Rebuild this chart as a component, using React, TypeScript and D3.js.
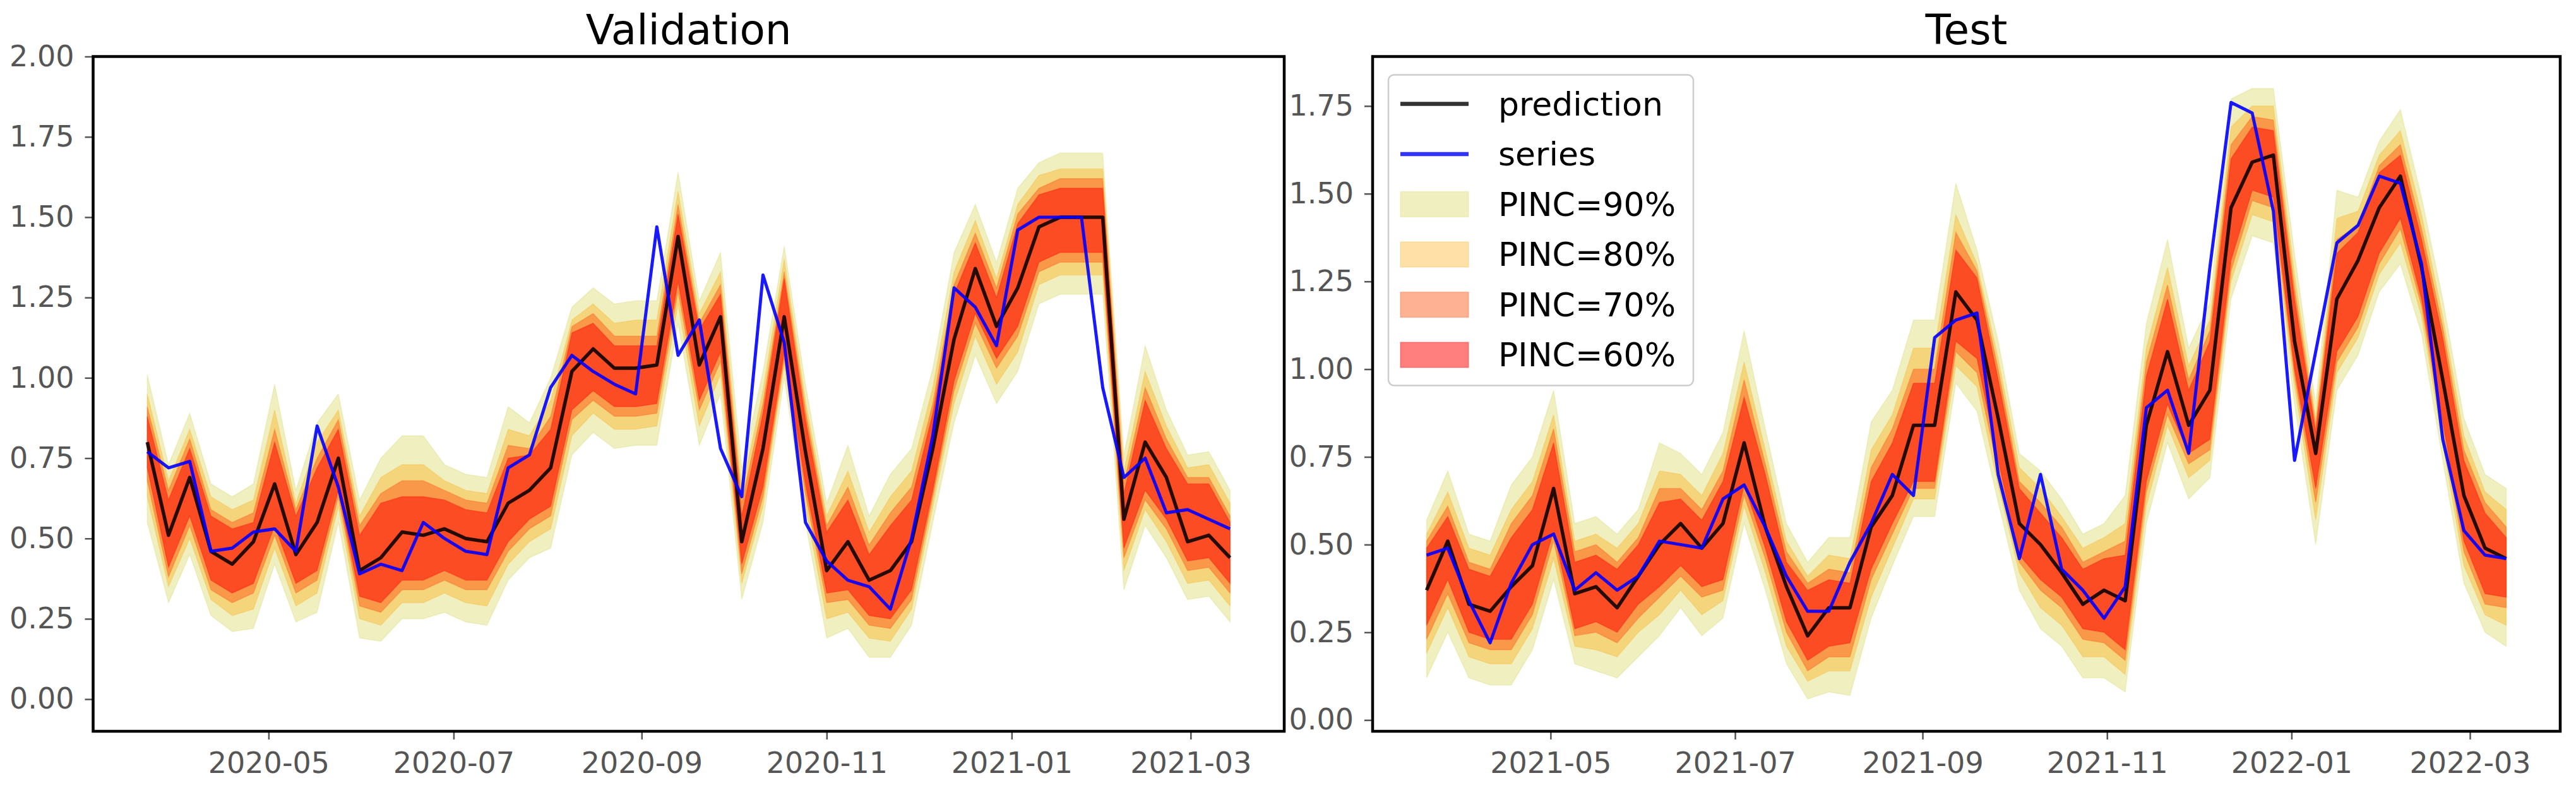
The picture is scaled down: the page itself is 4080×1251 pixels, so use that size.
import { useEffect, useRef } from 'react'
import * as d3 from 'd3'

// ── Data: weekly points ─────────────────────────────────────────────
const valStart = '2020-03-22'
const testStart = '2021-03-21'

const valPrediction = [
  0.80, 0.51, 0.69, 0.46, 0.42, 0.49, 0.67, 0.45, 0.55, 0.75, 0.40, 0.44, 0.52, 0.51,
  0.53, 0.50, 0.49, 0.61, 0.65, 0.72, 1.02, 1.09, 1.03, 1.03, 1.04, 1.44, 1.04, 1.19,
  0.49, 0.78, 1.19, 0.77, 0.40, 0.49, 0.37, 0.40, 0.49, 0.78, 1.12, 1.34, 1.16, 1.28,
  1.47, 1.50, 1.50, 1.50, 0.56, 0.80, 0.69, 0.49, 0.51, 0.44,
]
const valSeries = [
  0.77, 0.72, 0.74, 0.46, 0.47, 0.52, 0.53, 0.46, 0.85, 0.66, 0.39, 0.42, 0.40, 0.55,
  0.50, 0.46, 0.45, 0.72, 0.76, 0.97, 1.07, 1.02, 0.98, 0.95, 1.47, 1.07, 1.18, 0.78,
  0.63, 1.32, 1.11, 0.55, 0.43, 0.37, 0.35, 0.28, 0.50, 0.82, 1.28, 1.22, 1.10, 1.46,
  1.50, 1.50, 1.50, 0.97, 0.69, 0.75, 0.58, 0.59, 0.56, 0.53,
]
const valHi90 = [
  1.01, 0.73, 0.89, 0.67, 0.63, 0.67, 0.98, 0.65, 0.86, 0.95, 0.62, 0.75, 0.82, 0.82,
  0.73, 0.70, 0.69, 0.91, 0.86, 1.00, 1.22, 1.28, 1.23, 1.24, 1.24, 1.64, 1.24, 1.39,
  0.72, 1.02, 1.41, 0.98, 0.61, 0.79, 0.57, 0.70, 0.78, 1.03, 1.39, 1.54, 1.36, 1.59,
  1.67, 1.70, 1.70, 1.70, 0.76, 1.10, 0.90, 0.76, 0.77, 0.65,
]
const valHi80 = [
  0.95, 0.68, 0.84, 0.63, 0.59, 0.62, 0.90, 0.61, 0.80, 0.90, 0.57, 0.69, 0.73, 0.73,
  0.68, 0.65, 0.64, 0.84, 0.82, 0.93, 1.18, 1.23, 1.17, 1.18, 1.18, 1.58, 1.20, 1.33,
  0.65, 0.96, 1.37, 0.93, 0.57, 0.71, 0.52, 0.63, 0.71, 0.97, 1.33, 1.49, 1.31, 1.54,
  1.63, 1.65, 1.65, 1.65, 0.71, 1.02, 0.85, 0.72, 0.73, 0.61,
]
const valHi70 = [
  0.91, 0.65, 0.81, 0.59, 0.55, 0.58, 0.84, 0.59, 0.75, 0.87, 0.54, 0.64, 0.68, 0.68,
  0.65, 0.62, 0.61, 0.79, 0.78, 0.88, 1.16, 1.20, 1.13, 1.13, 1.13, 1.54, 1.17, 1.29,
  0.61, 0.92, 1.33, 0.90, 0.54, 0.66, 0.48, 0.58, 0.66, 0.92, 1.29, 1.45, 1.28, 1.51,
  1.59, 1.62, 1.62, 1.62, 0.67, 0.97, 0.81, 0.69, 0.69, 0.57,
]
const valHi60 = [
  0.88, 0.62, 0.78, 0.57, 0.53, 0.55, 0.80, 0.57, 0.72, 0.84, 0.51, 0.61, 0.63, 0.63,
  0.62, 0.59, 0.58, 0.75, 0.76, 0.84, 1.14, 1.17, 1.10, 1.10, 1.10, 1.51, 1.15, 1.26,
  0.57, 0.89, 1.31, 0.87, 0.52, 0.62, 0.45, 0.54, 0.62, 0.89, 1.26, 1.42, 1.25, 1.48,
  1.57, 1.59, 1.59, 1.59, 0.64, 0.93, 0.78, 0.67, 0.67, 0.55,
]
const valLo60 = [
  0.72, 0.41, 0.57, 0.37, 0.33, 0.36, 0.54, 0.36, 0.40, 0.65, 0.32, 0.30, 0.37, 0.37,
  0.40, 0.37, 0.37, 0.49, 0.56, 0.60, 0.90, 0.96, 0.91, 0.91, 0.92, 1.30, 0.93, 1.08,
  0.42, 0.66, 1.08, 0.67, 0.33, 0.34, 0.26, 0.25, 0.34, 0.65, 0.99, 1.20, 1.06, 1.16,
  1.36, 1.39, 1.39, 1.39, 0.47, 0.65, 0.56, 0.43, 0.44, 0.36,
]
const valLo70 = [
  0.68, 0.38, 0.54, 0.34, 0.30, 0.33, 0.51, 0.33, 0.37, 0.63, 0.29, 0.27, 0.34, 0.34,
  0.37, 0.34, 0.34, 0.46, 0.53, 0.57, 0.87, 0.93, 0.88, 0.88, 0.89, 1.27, 0.90, 1.05,
  0.39, 0.63, 1.06, 0.64, 0.30, 0.31, 0.23, 0.22, 0.31, 0.63, 0.96, 1.17, 1.03, 1.13,
  1.33, 1.36, 1.36, 1.36, 0.44, 0.62, 0.53, 0.40, 0.41, 0.33,
]
const valLo80 = [
  0.63, 0.35, 0.50, 0.31, 0.26, 0.28, 0.47, 0.29, 0.33, 0.60, 0.25, 0.23, 0.30, 0.30,
  0.33, 0.30, 0.29, 0.42, 0.49, 0.53, 0.82, 0.89, 0.84, 0.84, 0.85, 1.23, 0.85, 1.01,
  0.36, 0.60, 1.04, 0.60, 0.25, 0.27, 0.19, 0.18, 0.28, 0.60, 0.92, 1.13, 0.98, 1.08,
  1.29, 1.32, 1.32, 1.32, 0.40, 0.59, 0.49, 0.36, 0.37, 0.29,
]
const valLo90 = [
  0.55, 0.30, 0.45, 0.26, 0.21, 0.22, 0.42, 0.24, 0.27, 0.55, 0.19, 0.18, 0.25, 0.25,
  0.27, 0.24, 0.23, 0.37, 0.44, 0.47, 0.76, 0.83, 0.78, 0.79, 0.79, 1.17, 0.79, 0.95,
  0.31, 0.55, 1.00, 0.55, 0.19, 0.22, 0.13, 0.13, 0.23, 0.55, 0.86, 1.07, 0.92, 1.02,
  1.23, 1.26, 1.26, 1.26, 0.34, 0.54, 0.44, 0.31, 0.32, 0.24,
]

const testPrediction = [
  0.37, 0.51, 0.33, 0.31, 0.38, 0.44, 0.66, 0.36, 0.38, 0.32, 0.41, 0.50, 0.56, 0.49,
  0.56, 0.79, 0.55, 0.38, 0.24, 0.32, 0.32, 0.55, 0.64, 0.84, 0.84, 1.22, 1.14, 0.86,
  0.56, 0.50, 0.42, 0.33, 0.37, 0.34, 0.84, 1.05, 0.84, 0.94, 1.46, 1.59, 1.61, 1.08,
  0.76, 1.20, 1.31, 1.46, 1.55, 1.29, 0.97, 0.64, 0.49, 0.46,
]
const testSeries = [
  0.47, 0.49, 0.34, 0.22, 0.39, 0.50, 0.53, 0.37, 0.42, 0.37, 0.41, 0.51, 0.50, 0.49,
  0.63, 0.67, 0.55, 0.41, 0.31, 0.31, 0.45, 0.56, 0.70, 0.64, 1.09, 1.14, 1.16, 0.70,
  0.46, 0.70, 0.43, 0.37, 0.29, 0.38, 0.89, 0.94, 0.76, 1.29, 1.76, 1.73, 1.45, 0.74,
  1.05, 1.36, 1.41, 1.55, 1.53, 1.30, 0.80, 0.54, 0.47, 0.46,
]
const testHi90 = [
  0.57, 0.71, 0.53, 0.51, 0.67, 0.75, 0.94, 0.56, 0.58, 0.53, 0.60, 0.79, 0.76, 0.70,
  0.82, 1.11, 0.83, 0.56, 0.45, 0.52, 0.52, 0.85, 0.94, 1.14, 1.14, 1.53, 1.34, 1.08,
  0.76, 0.71, 0.63, 0.53, 0.56, 0.64, 1.13, 1.37, 1.06, 1.19, 1.77, 1.80, 1.80, 1.33,
  0.90, 1.51, 1.49, 1.65, 1.74, 1.49, 1.20, 0.86, 0.70, 0.66,
]
const testHi80 = [
  0.53, 0.65, 0.49, 0.47, 0.60, 0.68, 0.87, 0.51, 0.53, 0.49, 0.56, 0.71, 0.70, 0.64,
  0.76, 1.02, 0.77, 0.51, 0.41, 0.47, 0.46, 0.77, 0.87, 1.06, 1.06, 1.44, 1.30, 1.03,
  0.72, 0.66, 0.58, 0.49, 0.52, 0.56, 1.06, 1.29, 1.01, 1.14, 1.69, 1.75, 1.75, 1.27,
  0.86, 1.43, 1.45, 1.61, 1.68, 1.44, 1.15, 0.81, 0.65, 0.60,
]
const testHi70 = [
  0.51, 0.61, 0.45, 0.43, 0.56, 0.64, 0.83, 0.48, 0.50, 0.45, 0.52, 0.66, 0.66, 0.60,
  0.71, 0.97, 0.73, 0.48, 0.39, 0.43, 0.42, 0.72, 0.83, 1.00, 1.00, 1.39, 1.28, 1.00,
  0.68, 0.62, 0.55, 0.45, 0.48, 0.51, 1.02, 1.24, 0.97, 1.11, 1.64, 1.72, 1.71, 1.23,
  0.84, 1.37, 1.41, 1.58, 1.64, 1.40, 1.12, 0.77, 0.62, 0.55,
]
const testHi60 = [
  0.49, 0.58, 0.43, 0.41, 0.52, 0.60, 0.79, 0.45, 0.47, 0.43, 0.50, 0.62, 0.63, 0.57,
  0.68, 0.92, 0.70, 0.45, 0.37, 0.40, 0.39, 0.68, 0.79, 0.96, 0.96, 1.34, 1.26, 0.97,
  0.66, 0.59, 0.52, 0.43, 0.46, 0.47, 0.98, 1.20, 0.94, 1.08, 1.60, 1.69, 1.68, 1.20,
  0.82, 1.33, 1.39, 1.56, 1.61, 1.37, 1.09, 0.74, 0.59, 0.52,
]
const testLo60 = [
  0.27, 0.40, 0.25, 0.23, 0.23, 0.33, 0.54, 0.26, 0.28, 0.25, 0.33, 0.38, 0.44, 0.38,
  0.40, 0.67, 0.49, 0.28, 0.17, 0.21, 0.22, 0.43, 0.56, 0.68, 0.68, 1.08, 1.03, 0.74,
  0.47, 0.40, 0.35, 0.26, 0.25, 0.20, 0.68, 0.90, 0.76, 0.80, 1.31, 1.51, 1.49, 1.00,
  0.66, 1.05, 1.15, 1.33, 1.43, 1.20, 0.85, 0.51, 0.36, 0.35,
]
const testLo70 = [
  0.23, 0.36, 0.22, 0.20, 0.20, 0.30, 0.51, 0.24, 0.25, 0.22, 0.29, 0.35, 0.41, 0.35,
  0.37, 0.64, 0.46, 0.25, 0.14, 0.18, 0.18, 0.40, 0.53, 0.66, 0.66, 1.05, 0.99, 0.71,
  0.45, 0.37, 0.32, 0.23, 0.22, 0.17, 0.65, 0.87, 0.73, 0.77, 1.28, 1.48, 1.46, 0.98,
  0.62, 1.02, 1.12, 1.30, 1.40, 1.18, 0.82, 0.48, 0.33, 0.32,
]
const testLo80 = [
  0.19, 0.32, 0.18, 0.16, 0.16, 0.26, 0.46, 0.21, 0.20, 0.18, 0.25, 0.30, 0.37, 0.30,
  0.34, 0.61, 0.42, 0.21, 0.11, 0.14, 0.14, 0.35, 0.49, 0.63, 0.63, 1.01, 0.95, 0.67,
  0.42, 0.32, 0.27, 0.18, 0.18, 0.13, 0.61, 0.84, 0.69, 0.74, 1.25, 1.44, 1.42, 0.95,
  0.57, 0.99, 1.09, 1.27, 1.36, 1.15, 0.79, 0.44, 0.30, 0.27,
]
const testLo90 = [
  0.12, 0.25, 0.12, 0.10, 0.10, 0.20, 0.40, 0.16, 0.14, 0.12, 0.18, 0.24, 0.32, 0.24,
  0.29, 0.56, 0.37, 0.16, 0.06, 0.08, 0.07, 0.29, 0.44, 0.58, 0.58, 0.96, 0.88, 0.62,
  0.37, 0.26, 0.21, 0.12, 0.12, 0.08, 0.56, 0.79, 0.63, 0.69, 1.20, 1.38, 1.36, 0.90,
  0.50, 0.94, 1.04, 1.22, 1.30, 1.10, 0.74, 0.39, 0.25, 0.21,
]

const valYTicks = [0, 0.25, 0.5, 0.75, 1, 1.25, 1.5, 1.75, 2]
const testYTicks = [0, 0.25, 0.5, 0.75, 1, 1.25, 1.5, 1.75]
const valYDomain: [number, number] = [-0.1, 2.0]
const testYDomain: [number, number] = [-0.032, 1.891]

const pincLabels = ['PINC=90%', 'PINC=80%', 'PINC=70%', 'PINC=60%']

// ── Styles ──────────────────────────────────────────────────────────
const W = 4080
const H = 1251
const FONT = 'DejaVu Sans, sans-serif'
const bandStyles = [
  { color: '#bfbf00', alpha: 0.25 },
  { color: '#ffa500', alpha: 0.35 },
  { color: '#ff4500', alpha: 0.42 },
  { color: '#ff0000', alpha: 0.5 },
]
const predColor = '#000000'
const seriesColor = '#0000ff'
const tickColor = '#555555'

interface Frame {
  left: number
  right: number
  top: number
  bottom: number
}

interface Panel {
  title: string
  start: string
  pred: number[]
  series: number[]
  bands: [number[], number[]][]
  yDomain: [number, number]
  yTicks: number[]
  frame: Frame
  legend: boolean
}

const panels: Panel[] = [
  {
    title: 'Validation',
    start: valStart,
    pred: valPrediction,
    series: valSeries,
    bands: [
      [valLo90, valHi90],
      [valLo80, valHi80],
      [valLo70, valHi70],
      [valLo60, valHi60],
    ],
    yDomain: valYDomain,
    yTicks: valYTicks,
    frame: { left: 147.5, right: 2034, top: 89.5, bottom: 1158 },
    legend: false,
  },
  {
    title: 'Test',
    start: testStart,
    pred: testPrediction,
    series: testSeries,
    bands: [
      [testLo90, testHi90],
      [testLo80, testHi80],
      [testLo70, testHi70],
      [testLo60, testHi60],
    ],
    yDomain: testYDomain,
    yTicks: testYTicks,
    frame: { left: 2174, right: 4055, top: 89.5, bottom: 1158 },
    legend: true,
  },
]

function styleAxis(g: d3.Selection<SVGGElement, unknown, null, undefined>) {
  g.select('.domain').remove()
  g.attr('font-family', FONT).attr('font-size', 46)
  g.selectAll('line').attr('stroke', tickColor).attr('stroke-width', 2.5)
  g.selectAll('text').attr('fill', tickColor)
}

function drawPanel(svg: d3.Selection<SVGSVGElement, unknown, null, undefined>, p: Panel) {
  const { left, right, top, bottom } = p.frame
  const t0 = new Date(p.start)
  const dates = p.pred.map((_, i) => d3.utcDay.offset(t0, i * 7))
  const first = +dates[0]!
  const last = +dates[dates.length - 1]!
  const pad = (last - first) * 0.05

  const x = d3
    .scaleUtc()
    .domain([new Date(first - pad), new Date(last + pad)])
    .range([left, right])
  const y = d3.scaleLinear().domain(p.yDomain).range([bottom, top])

  const root = svg.append('g')

  // ── Prediction intervals ────────────────────────────────────────
  p.bands.forEach(([lo, hi], b) => {
    const area = d3
      .area<number>()
      .x((_, i) => x(dates[i]!))
      .y0((_, i) => y(lo[i]!))
      .y1((_, i) => y(hi[i]!))
    root
      .append('path')
      .datum(hi)
      .attr('d', area)
      .attr('fill', bandStyles[b]!.color)
      .attr('fill-opacity', bandStyles[b]!.alpha)
      .attr('stroke', bandStyles[b]!.color)
      .attr('stroke-opacity', bandStyles[b]!.alpha * 0.6)
      .attr('stroke-width', 1.5)
  })

  // ── Lines ───────────────────────────────────────────────────────
  const line = d3
    .line<number>()
    .x((_, i) => x(dates[i]!))
    .y((v) => y(v))

  root
    .append('path')
    .datum(p.pred)
    .attr('d', line)
    .attr('fill', 'none')
    .attr('stroke', predColor)
    .attr('stroke-opacity', 0.85)
    .attr('stroke-width', 5.5)
    .attr('stroke-linejoin', 'round')

  root
    .append('path')
    .datum(p.series)
    .attr('d', line)
    .attr('fill', 'none')
    .attr('stroke', seriesColor)
    .attr('stroke-opacity', 0.9)
    .attr('stroke-width', 5)
    .attr('stroke-linejoin', 'round')

  // ── Axes ────────────────────────────────────────────────────────
  const xAxis = d3
    .axisBottom(x)
    .ticks(d3.utcMonth.every(2)!)
    .tickFormat((d) => d3.utcFormat('%Y-%m')(d as Date))
    .tickSize(13)
    .tickPadding(20)
  root.append('g').attr('transform', `translate(0,${bottom})`).call(xAxis).call(styleAxis)

  const yAxis = d3
    .axisLeft(y)
    .tickValues(p.yTicks)
    .tickFormat((d) => d3.format('.2f')(Number(d)))
    .tickSize(13)
    .tickPadding(17)
  root.append('g').attr('transform', `translate(${left},0)`).call(yAxis).call(styleAxis)

  // frame
  root
    .append('rect')
    .attr('x', left)
    .attr('y', top)
    .attr('width', right - left)
    .attr('height', bottom - top)
    .attr('fill', 'none')
    .attr('stroke', '#000')
    .attr('stroke-width', 4.5)

  // title
  root
    .append('text')
    .attr('x', (left + right) / 2)
    .attr('y', 70)
    .attr('text-anchor', 'middle')
    .attr('font-family', FONT)
    .attr('font-size', 66)
    .attr('fill', '#000')
    .text(p.title)

  // ── Legend ──────────────────────────────────────────────────────
  if (p.legend) {
    const lx = left + 25
    const ly = top + 29
    const lg = root.append('g').attr('transform', `translate(${lx},${ly})`)
    lg.append('rect')
      .attr('width', 483)
      .attr('height', 492)
      .attr('rx', 9)
      .attr('fill', '#fff')
      .attr('fill-opacity', 0.8)
      .attr('stroke', '#cccccc')
      .attr('stroke-width', 2.5)

    const rowY = (i: number) => 46 + i * 79.5
    const entries = [
      { label: 'prediction', kind: 'line', color: predColor, alpha: 0.8 },
      { label: 'series', kind: 'line', color: seriesColor, alpha: 0.8 },
      ...pincLabels.map((label, b) => ({
        label,
        kind: 'patch',
        color: bandStyles[b]!.color,
        alpha: bandStyles[b]!.alpha,
      })),
    ]
    entries.forEach((e, i) => {
      const cy = rowY(i)
      if (e.kind === 'line') {
        lg.append('line')
          .attr('x1', 19)
          .attr('x2', 127)
          .attr('y1', cy)
          .attr('y2', cy)
          .attr('stroke', e.color)
          .attr('stroke-opacity', e.alpha)
          .attr('stroke-width', 6.5)
      } else {
        lg.append('rect')
          .attr('x', 19)
          .attr('y', cy - 20)
          .attr('width', 108)
          .attr('height', 40)
          .attr('fill', e.color)
          .attr('fill-opacity', e.alpha)
          .attr('stroke', e.color)
          .attr('stroke-opacity', e.alpha * 0.6)
          .attr('stroke-width', 1.5)
      }
      lg.append('text')
        .attr('x', 174)
        .attr('y', cy)
        .attr('dominant-baseline', 'central')
        .attr('font-family', FONT)
        .attr('font-size', 52)
        .attr('fill', '#000')
        .text(e.label)
    })
  }
}

export default function App() {
  const svgRef = useRef<SVGSVGElement>(null)

  useEffect(() => {
    const el = svgRef.current
    if (!el) return
    const svg = d3.select(el)
    svg.selectAll('*').remove()
    svg.append('rect').attr('width', W).attr('height', H).attr('fill', '#fff')
    panels.forEach((p) => drawPanel(svg, p))
  }, [])

  return (
    <svg
      ref={svgRef}
      width={W}
      height={H}
      style={{ position: 'absolute', left: 0, top: 0, display: 'block' }}
    />
  )
}
